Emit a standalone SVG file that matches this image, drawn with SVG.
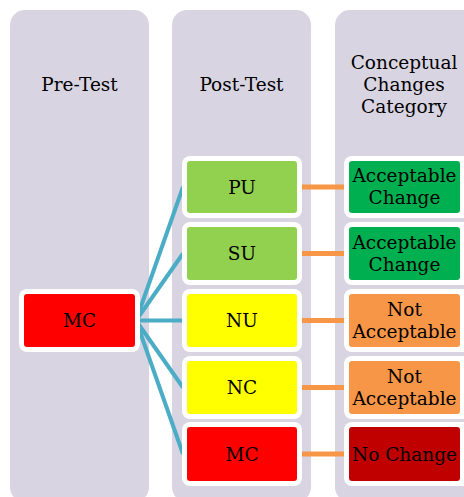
<svg xmlns="http://www.w3.org/2000/svg" width="464" height="497" viewBox="0 0 464 497">
<style>
.col{fill:#D8D4E2}
.wb{fill:#FFFFFF}
text{font-family:"DejaVu Serif","Liberation Serif",serif;font-size:18.5px;fill:#000;text-anchor:middle}
.blue{stroke:#4BACC6;stroke-width:4;fill:none}
.org{stroke:#F79646;stroke-width:5;fill:none}
</style>
<rect width="464" height="497" fill="#FFFFFF"/>
<g id="columns">
<rect class="col" x="10" y="10" width="139" height="492" rx="15"/>
<rect class="col" x="172" y="10" width="139" height="492" rx="15"/>
<rect class="col" x="335" y="10" width="150" height="492" rx="15"/>
</g>
<g id="headers">
<text x="79.5" y="91">Pre-Test</text>
<text x="241.5" y="91">Post-Test</text>
<text x="404" y="69">Conceptual</text>
<text x="404" y="91">Changes</text>
<text x="404" y="113">Category</text>
</g>
<g id="connectors">
<line class="blue" x1="136" y1="320.5" x2="183" y2="187"/>
<line class="blue" x1="136" y1="320.5" x2="183" y2="253.5"/>
<line class="blue" x1="136" y1="320.5" x2="183" y2="320.5"/>
<line class="blue" x1="136" y1="320.5" x2="183" y2="387.5"/>
<line class="blue" x1="136" y1="320.5" x2="183" y2="454"/>
<line class="org" x1="300" y1="187" x2="345" y2="187"/>
<line class="org" x1="300" y1="253.5" x2="345" y2="253.5"/>
<line class="org" x1="300" y1="320.5" x2="345" y2="320.5"/>
<line class="org" x1="300" y1="387.5" x2="345" y2="387.5"/>
<line class="org" x1="300" y1="454" x2="345" y2="454"/>
</g>
<g id="pre-mc">
<rect class="wb" x="19" y="289" width="121" height="63" rx="8"/>
<rect x="24" y="294" width="111" height="53" rx="3" fill="#FF0000"/>
<text x="79.5" y="327">MC</text>
</g>
<g id="post-pu">
<rect class="wb" x="182" y="156" width="120" height="62" rx="8"/>
<rect x="187" y="161" width="110" height="52" rx="3" fill="#92D050"/>
<text x="242" y="193.5">PU</text>
</g>
<g id="post-su">
<rect class="wb" x="182" y="222" width="120" height="63" rx="8"/>
<rect x="187" y="227" width="110" height="53" rx="3" fill="#92D050"/>
<text x="242" y="260">SU</text>
</g>
<g id="post-nu">
<rect class="wb" x="182" y="289" width="120" height="63" rx="8"/>
<rect x="187" y="294" width="110" height="53" rx="3" fill="#FFFF00"/>
<text x="242" y="327">NU</text>
</g>
<g id="post-nc">
<rect class="wb" x="182" y="356" width="120" height="63" rx="8"/>
<rect x="187" y="361" width="110" height="53" rx="3" fill="#FFFF00"/>
<text x="242" y="394">NC</text>
</g>
<g id="post-mc">
<rect class="wb" x="182" y="422" width="120" height="64" rx="8"/>
<rect x="187" y="427" width="110" height="54" rx="3" fill="#FF0000"/>
<text x="242" y="460.5">MC</text>
</g>
<g id="cat-1">
<rect class="wb" x="344" y="156" width="130" height="62" rx="8"/>
<rect x="349" y="161" width="111" height="52" rx="3" fill="#00B050"/>
<text x="404.5" y="182">Acceptable</text>
<text x="404.5" y="204">Change</text>
</g>
<g id="cat-2">
<rect class="wb" x="344" y="222" width="130" height="63" rx="8"/>
<rect x="349" y="227" width="111" height="53" rx="3" fill="#00B050"/>
<text x="404.5" y="248.5">Acceptable</text>
<text x="404.5" y="270.5">Change</text>
</g>
<g id="cat-3">
<rect class="wb" x="344" y="289" width="130" height="63" rx="8"/>
<rect x="349" y="294" width="111" height="53" rx="3" fill="#F79646"/>
<text x="404.5" y="315.5">Not</text>
<text x="404.5" y="337.5">Acceptable</text>
</g>
<g id="cat-4">
<rect class="wb" x="344" y="356" width="130" height="63" rx="8"/>
<rect x="349" y="361" width="111" height="53" rx="3" fill="#F79646"/>
<text x="404.5" y="382.5">Not</text>
<text x="404.5" y="404.5">Acceptable</text>
</g>
<g id="cat-5">
<rect class="wb" x="344" y="422" width="130" height="64" rx="8"/>
<rect x="349" y="427" width="111" height="54" rx="3" fill="#C00000"/>
<text x="404.5" y="460.5">No Change</text>
</g>
</svg>
